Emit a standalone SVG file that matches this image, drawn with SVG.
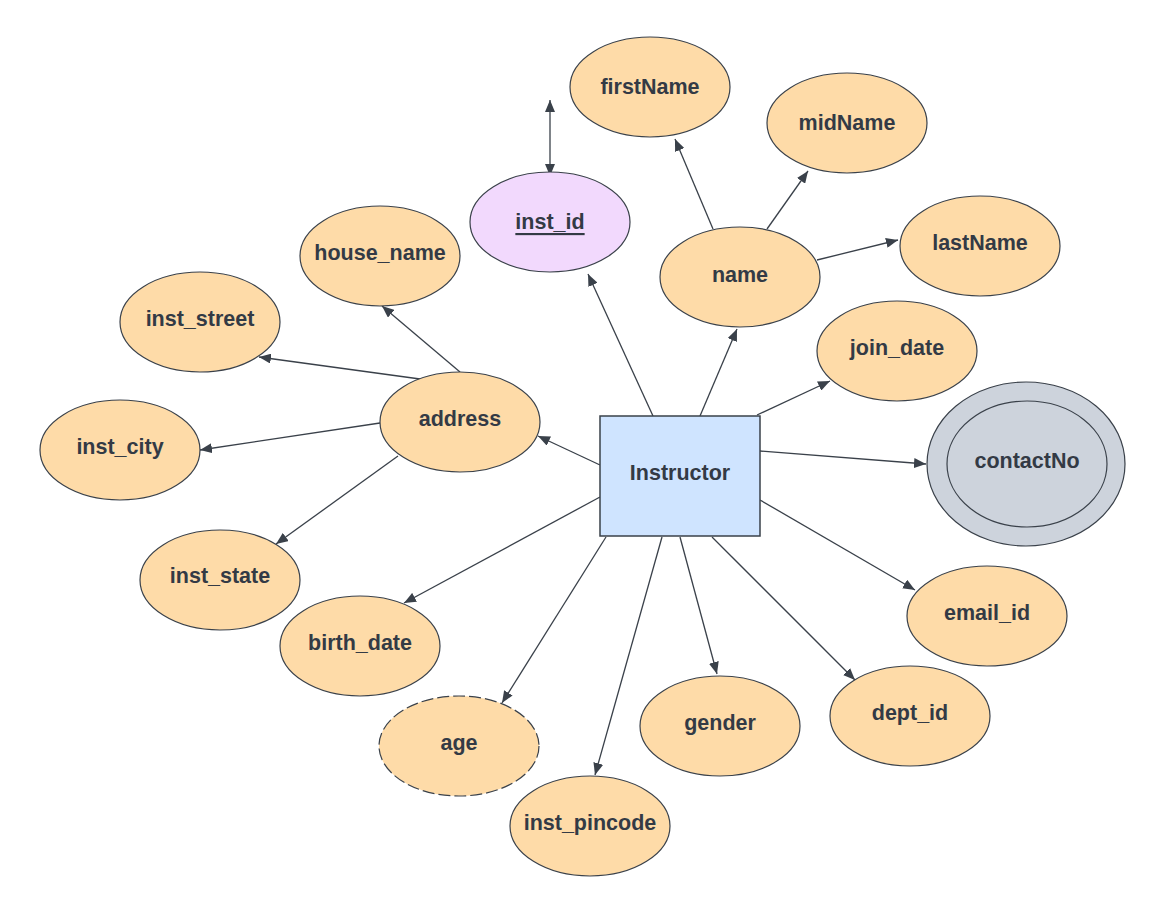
<svg xmlns="http://www.w3.org/2000/svg" width="1165" height="916" viewBox="0 0 1165 916">
  <style>
    .attr { fill: #fedba8; stroke: #3a414a; stroke-width: 1.2; }
    .key { fill: #f2d9fd; stroke: #3a414a; stroke-width: 1.2; }
    .multi { fill: #cdd3dc; stroke: #3a414a; stroke-width: 1.2; }
    .entity { fill: #cfe4ff; stroke: #3a414a; stroke-width: 1.5; }
    .derived { stroke-dasharray: 12 4; }
    .lbl { font-family: "Liberation Sans", Arial, sans-serif; font-weight: bold; font-size: 21.5px; fill: #333a45; text-anchor: middle; dominant-baseline: central; }
    .edge { stroke: #3a414a; stroke-width: 1.3; fill: none; marker-end: url(#arrow); }
  </style>
  <defs>
    <marker id="arrow" viewBox="0 0 12 10" refX="12" refY="5" markerWidth="12" markerHeight="10" markerUnits="userSpaceOnUse" orient="auto-start-reverse">
      <path d="M0,0 L12,5 L0,10 Z" fill="#3a414a"/>
    </marker>
  </defs>
  <rect width="1165" height="916" fill="#ffffff"/>

  <g id="connectors">
    <line class="edge" x1="550" y1="100" x2="550" y2="176" style="marker-start: url(#arrow)"/>
    <line class="edge" x1="653" y1="416" x2="588" y2="274"/>
    <line class="edge" x1="700" y1="416" x2="737" y2="329"/>
    <line class="edge" x1="713" y1="229" x2="675" y2="139"/>
    <line class="edge" x1="767" y1="229" x2="808" y2="171"/>
    <line class="edge" x1="817" y1="260" x2="898" y2="240"/>
    <line class="edge" x1="757" y1="415" x2="830" y2="381"/>
    <line class="edge" x1="760" y1="451" x2="926" y2="464"/>
    <line class="edge" x1="760" y1="500" x2="915" y2="590"/>
    <line class="edge" x1="712" y1="537" x2="855" y2="680"/>
    <line class="edge" x1="680" y1="537" x2="717" y2="674"/>
    <line class="edge" x1="662" y1="537" x2="595" y2="775"/>
    <line class="edge" x1="606" y1="537" x2="502" y2="703"/>
    <line class="edge" x1="600" y1="497" x2="404" y2="603"/>
    <line class="edge" x1="600" y1="465" x2="538" y2="436"/>
    <line class="edge" x1="460" y1="372" x2="382" y2="306"/>
    <line class="edge" x1="420" y1="379" x2="259" y2="357"/>
    <line class="edge" x1="380" y1="423" x2="200" y2="450"/>
    <line class="edge" x1="398" y1="456" x2="276" y2="544"/>
  </g>

  <g id="instructor">
    <rect class="entity" x="600" y="416" width="160" height="120"/>
    <text class="lbl" x="680" y="473">Instructor</text>
  </g>
  <g id="inst_id">
    <ellipse class="key" cx="550" cy="222" rx="80" ry="50"/>
    <text class="lbl" x="550" y="222" text-decoration="underline">inst_id</text>
  </g>
  <g id="firstName">
    <ellipse class="attr" cx="650" cy="87" rx="80" ry="50"/>
    <text class="lbl" x="650" y="87">firstName</text>
  </g>
  <g id="midName">
    <ellipse class="attr" cx="847" cy="123" rx="80" ry="50"/>
    <text class="lbl" x="847" y="123">midName</text>
  </g>
  <g id="lastName">
    <ellipse class="attr" cx="980" cy="246" rx="80" ry="50"/>
    <text class="lbl" x="980" y="243">lastName</text>
  </g>
  <g id="name">
    <ellipse class="attr" cx="740" cy="277" rx="80" ry="50"/>
    <text class="lbl" x="740" y="275">name</text>
  </g>
  <g id="house_name">
    <ellipse class="attr" cx="380" cy="256" rx="80" ry="50"/>
    <text class="lbl" x="380" y="253">house_name</text>
  </g>
  <g id="inst_street">
    <ellipse class="attr" cx="200" cy="322" rx="80" ry="50"/>
    <text class="lbl" x="200" y="319">inst_street</text>
  </g>
  <g id="inst_city">
    <ellipse class="attr" cx="120" cy="450" rx="80" ry="50"/>
    <text class="lbl" x="120" y="447">inst_city</text>
  </g>
  <g id="address">
    <ellipse class="attr" cx="460" cy="422" rx="80" ry="50"/>
    <text class="lbl" x="460" y="419">address</text>
  </g>
  <g id="inst_state">
    <ellipse class="attr" cx="220" cy="580" rx="80" ry="50"/>
    <text class="lbl" x="220" y="576">inst_state</text>
  </g>
  <g id="birth_date">
    <ellipse class="attr" cx="360" cy="646" rx="80" ry="50"/>
    <text class="lbl" x="360" y="643">birth_date</text>
  </g>
  <g id="age">
    <ellipse class="attr derived" cx="459" cy="746" rx="80" ry="50"/>
    <text class="lbl" x="459" y="743">age</text>
  </g>
  <g id="inst_pincode">
    <ellipse class="attr" cx="590" cy="826" rx="80" ry="50"/>
    <text class="lbl" x="590" y="823">inst_pincode</text>
  </g>
  <g id="gender">
    <ellipse class="attr" cx="720" cy="726" rx="80" ry="50"/>
    <text class="lbl" x="720" y="723">gender</text>
  </g>
  <g id="dept_id">
    <ellipse class="attr" cx="910" cy="716" rx="80" ry="50"/>
    <text class="lbl" x="910" y="713">dept_id</text>
  </g>
  <g id="email_id">
    <ellipse class="attr" cx="987" cy="616" rx="80" ry="50"/>
    <text class="lbl" x="987" y="613">email_id</text>
  </g>
  <g id="join_date">
    <ellipse class="attr" cx="897" cy="351" rx="80" ry="50"/>
    <text class="lbl" x="897" y="348">join_date</text>
  </g>
  <g id="contactNo">
    <ellipse class="multi" cx="1026" cy="464" rx="99" ry="82"/>
    <ellipse class="multi" cx="1027" cy="464" rx="80" ry="63"/>
    <text class="lbl" x="1027" y="461">contactNo</text>
  </g>
</svg>
